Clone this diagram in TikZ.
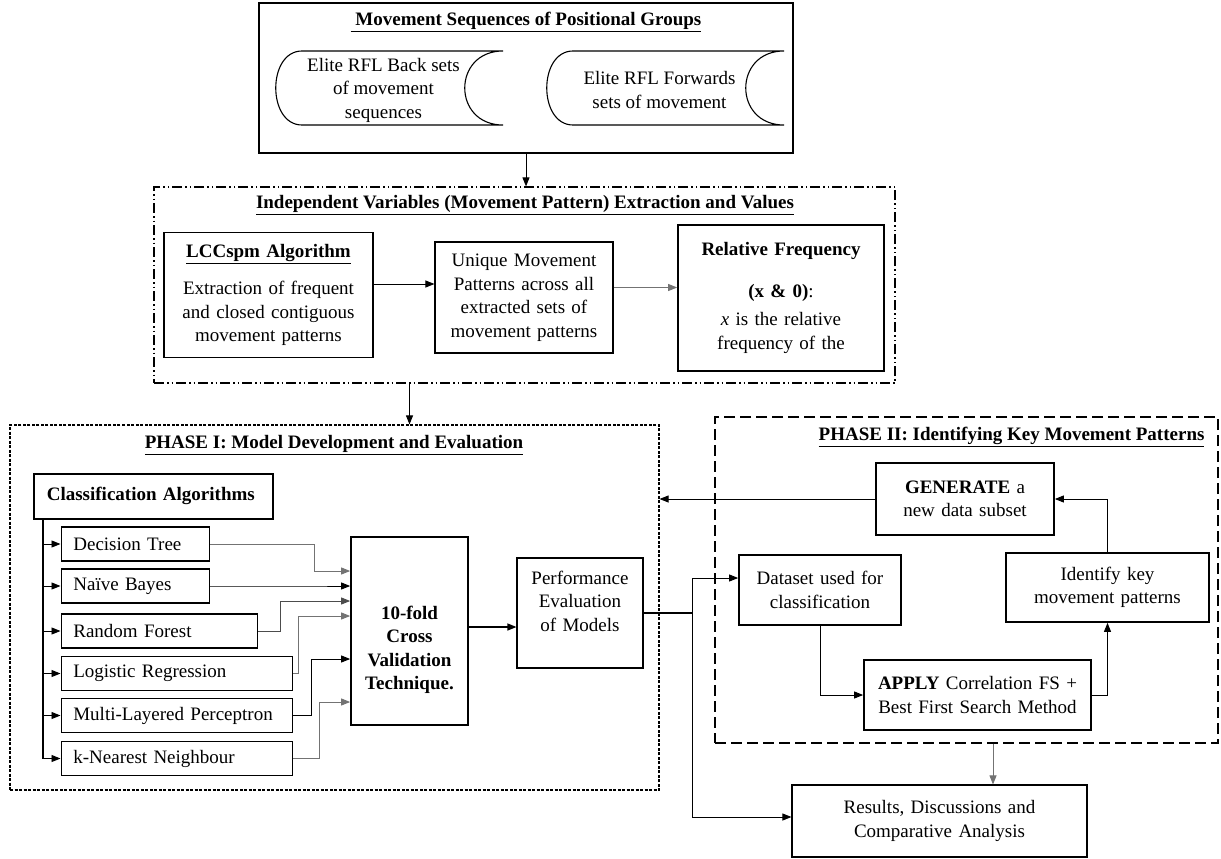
\documentclass[tikz,border=0pt]{standalone}
\usepackage{fontspec}
\setmainfont{Liberation Serif}
\usepackage{tikz}
\usetikzlibrary{arrows.meta}

\begin{document}
\begin{tikzpicture}[x=1pt, y=-1pt,
    font=\fontsize{19}{23.5}\selectfont,
    >={Triangle[length=9pt, width=7pt]},
    box/.style={draw, line width=1.7pt, align=center, inner sep=0pt},
    thinbox/.style={draw, line width=1.1pt, align=center, inner sep=0pt},
    algbox/.style={draw, line width=1.7pt, anchor=west, align=left,
                   inner xsep=12pt, inner ysep=0pt, minimum height=34pt},
    link/.style={->, line width=0.9pt},
    grey link/.style={->, line width=0.9pt, black!55}]

  \useasboundingbox (0,0) rectangle (1221,859);

  % ---- group frames: image coords, x right, y down ----
  \node[draw, line width=1.2pt, minimum width=534pt, minimum height=150pt] (seq) at (526,78) {};
  \node[draw, line width=1.2pt, minimum width=741pt, minimum height=196pt,
        dash pattern=on 10pt off 3pt on 1.5pt off 3pt on 1.5pt off 3pt] (ivx) at (524.5,285) {};
  \node[draw, line width=1.1pt, minimum width=649pt, minimum height=365pt,
        dash pattern=on 3pt off 1.5pt] (p1) at (334.5,607.5) {};
  \node[draw, line width=1.3pt, minimum width=503pt, minimum height=326pt,
        dash pattern=on 11pt off 5pt] (p2) at (966.5,580) {};

  % ---- titles ----
  \node (seqt) at (526,22) {\textbf{\underline{\ Movement Sequences of Positional Groups}}};
  \node (ivxt) at (525,205) {\textbf{\underline{Independent Variables (Movement Pattern) Extraction and Values}}};
  \node (p1t) at (334,445) {\textbf{\underline{PHASE I: Model Development and Evaluation}}};
  \node[anchor=east] (p2t) at (1208,437) {\textbf{\underline{PHASE II: Identifying Key Movement Patterns}}};

  % ---- stored sequences: {name / left / right / text} ----
  \foreach \nm/\xa/\xb/\txt in {
      bk/276/503/{Elite RFL Back sets\\of movement\\sequences},
      fw/547/784/{Elite RFL Forwards\\sets of movement}} {
    \draw[line width=1.1pt] (\xa+26,51) -- (\xb,51)
      .. controls (\xb-51,51) and (\xb-51,125) .. (\xb,125) -- (\xa+26,125)
      .. controls (\xa-9,125) and (\xa-9,51) .. (\xa+26,51) -- cycle;
    \node[align=center] (\nm) at ({(\xa+\xb-12)/2},90) {\txt};
  }

  % ---- extraction ----
  \node[box, minimum width=209pt, minimum height=125pt, text width=200pt] (lcc) at (268.5,295)
    {\underline{\textbf{LCCspm Algorithm}}\\[14pt]Extraction of frequent\\and closed contiguous\\movement patterns};
  \node[thinbox, minimum width=178pt, minimum height=111pt, text width=170pt] (unq) at (524,297.5)
    {Unique Movement\\Patterns across all\\extracted sets of\\movement patterns};
  \node[box, minimum width=206pt, minimum height=146pt, text width=196pt] (rfq) at (781,298)
    {\textbf{Relative Frequency}\\[18pt]\textbf{(x \& 0)}:\\[5pt]\textit{x} is the relative\\frequency of the};

  \draw[link] ([yshift=11pt]lcc.east) -- ([yshift=11pt]lcc.east -| unq.west);
  \draw[grey link] ([yshift=10pt]unq.east) -- ([yshift=10pt]unq.east -| rfq.west);

  % ---- phase I ----
  \node[box, anchor=north west, minimum width=239pt, minimum height=45pt, text width=213pt,
        align=left, inner xsep=13pt] (cls) at (33,473) {\textbf{Classification Algorithms}};

  \foreach \nm/\yy/\ww/\lab in {dt/544/148/Decision Tree, nb/586/148/Naïve Bayes,
      rfo/631/196/Random Forest, lr/673.5/231/Logistic Regression,
      mlp/715.5/231/Multi-Layered Perceptron, knn/758.5/231/k-Nearest Neighbour} {
    \pgfmathsetmacro\tw{\ww-24}
    \node[algbox, text width=\tw pt] (\nm) at (60.5,\yy) {\lab};
  }

  \coordinate (trk) at ([xshift=10pt]cls.south west);
  \draw[line width=1.1pt] (trk) -- (trk |- knn.west);
  \foreach \nm in {dt,nb,rfo,lr,mlp,knn}
    \draw[link] (trk |- \nm.west) -- (\nm.west);

  \node[box, font=\fontsize{19}{23.5}\selectfont\bfseries, minimum width=117pt, minimum height=188pt,
        text width=110pt] (cv) at (409.5,631) {\mbox{}\\[28pt]10-fold\\Cross\\Validation\\Technique.};

  % ---- algorithm outputs: {name / bend x / entry y / colour} ----
  \foreach \nm/\xx/\yy/\cl in {dt/314/571/black!55, nb/314/586/black, rfo/280/601/black!70,
                               lr/298/616/black!55, mlp/311/659/black, knn/319/702/black!55}
    \draw[link, \cl] (\nm.east) -| (\xx,\yy) -- (cv.west |- 0,\yy);

  \node[thinbox, minimum width=126pt, minimum height=110pt, text width=120pt] (pe) at (580,613)
    {Performance\\Evaluation\\of Models\\\mbox{}};
  \draw[link, line width=1.3pt] ([yshift=4pt]cv.east) -- ([yshift=4pt]cv.east -| pe.west);

  % ---- phase II ----
  \node[box, minimum width=178pt, minimum height=72pt, text width=170pt] (gen) at (965,499)
    {\textbf{GENERATE} a\\new data subset};
  \node[box, minimum width=162pt, minimum height=70pt, text width=156pt] (ds) at (820,590)
    {Dataset used for\\classification};
  \node[box, minimum width=203pt, minimum height=69pt, text width=196pt] (idf) at (1107.5,587.5)
    {Identify key\\movement patterns};
  \node[box, minimum width=227pt, minimum height=70pt, text width=220pt] (app) at (977.5,695)
    {\textbf{APPLY} Correlation FS +\\Best First Search Method};
  \node[thinbox, minimum width=295pt, minimum height=72pt, text width=288pt] (res) at (939.5,821)
    {Results, Discussions and\\Comparative Analysis};

  % ---- flow ----
  \draw[link] (seq.south) -- (seq.south |- ivx.north);
  \draw[link] (ivx.south -| cv.north) -- (p1.north -| cv.north);
  \draw[link] (gen.west) -- (gen.west -| p1.east);
  \draw[line width=1.1pt] (pe.east) -- ++(49,0) coordinate (jn);
  \draw[link] (jn) |- ([yshift=12pt]ds.west);
  \draw[link] (jn) |- ([yshift=4pt]res.west);
  \draw[link] (ds.south) |- (app.west);
  \draw[link] (app.east) -| (idf.south);
  \draw[link] (idf.north) |- (gen.east);
  \draw[grey link] ([xshift=26.5pt]p2.south) -- ([xshift=26.5pt]p2.south |- res.north);

\end{tikzpicture}
\end{document}
